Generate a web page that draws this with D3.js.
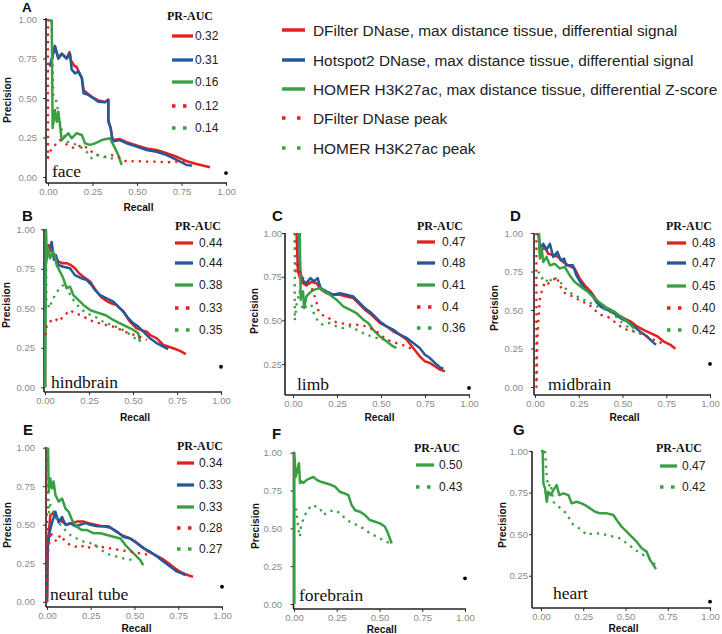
<!DOCTYPE html>
<html><head><meta charset="utf-8">
<script src="https://cdn.jsdelivr.net/npm/d3@7"></script>
<style>body{margin:0;background:#fff}svg{display:block}</style>
</head><body>
<svg id="chart" width="722" height="634"></svg>
<script>
// ---------------- DATA ----------------
const seriesNames = [
  "DFilter DNase, max distance tissue, differential signal",
  "Hotspot2 DNase, max distance tissue, differential signal",
  "HOMER H3K27ac, max distance tissue, differential Z-score",
  "DFilter DNase peak",
  "HOMER H3K27ac peak"
];
const xTicks = [0, 0.25, 0.5, 0.75, 1];
const yTicksFull = [0, 0.25, 0.5, 0.75, 1];
const yTicksShort = [0.25, 0.5, 0.75, 1];
const tissues = ["face", "hindbrain", "limb", "midbrain", "neural tube", "forebrain", "heart"];

// face (A)
const faceDFilterDiff = [[0.011,0.70],[0.039,0.825],[0.058,0.75],[0.077,0.78],[0.105,0.75],[0.12,0.79],[0.128,0.74],[0.15,0.70],[0.16,0.70],[0.175,0.66],[0.19,0.63],[0.2,0.55],[0.226,0.525],[0.255,0.50],[0.283,0.485],[0.32,0.475],[0.339,0.49],[0.339,0.36],[0.352,0.31],[0.363,0.235],[0.404,0.24],[0.442,0.22],[0.498,0.20],[0.554,0.18],[0.61,0.171],[0.667,0.15],[0.723,0.128],[0.779,0.10],[0.835,0.082],[0.91,0.062]];
const faceHotspotDiff = [[0.011,0.70],[0.039,0.83],[0.058,0.75],[0.077,0.78],[0.105,0.75],[0.124,0.78],[0.133,0.68],[0.152,0.656],[0.171,0.667],[0.19,0.625],[0.2,0.53],[0.226,0.52],[0.255,0.498],[0.283,0.477],[0.32,0.473],[0.339,0.487],[0.339,0.35],[0.352,0.308],[0.363,0.224],[0.404,0.234],[0.442,0.213],[0.498,0.192],[0.554,0.171],[0.61,0.16],[0.667,0.139],[0.723,0.108],[0.779,0.076],[0.81,0.072]];
const faceHomerDiff = [[0.002,0.99],[0.021,0.99],[0.026,0.31],[0.039,0.424],[0.049,0.35],[0.058,0.413],[0.067,0.33],[0.077,0.234],[0.096,0.255],[0.114,0.277],[0.133,0.245],[0.161,0.277],[0.19,0.266],[0.208,0.213],[0.236,0.203],[0.264,0.213],[0.302,0.234],[0.348,0.245],[0.367,0.203],[0.395,0.139],[0.414,0.076]];
const faceDFilterPeak = [[0,1.0],[0,0.12],[0.002,0.139],[0.021,0.18],[0.049,0.213],[0.067,0.234],[0.096,0.213],[0.124,0.192],[0.152,0.181],[0.19,0.203],[0.226,0.181],[0.255,0.15],[0.283,0.139],[0.32,0.128],[0.358,0.139],[0.404,0.122],[0.442,0.097],[0.498,0.101],[0.554,0.097],[0.61,0.097],[0.667,0.093],[0.723,0.097],[0.779,0.097]];
const faceHomerPeak = [[0.02,0.99],[0.03,0.5],[0.049,0.477],[0.058,0.40],[0.077,0.297],[0.105,0.224],[0.142,0.213],[0.18,0.192],[0.217,0.16],[0.245,0.118],[0.273,0.139],[0.311,0.128],[0.348,0.118],[0.367,0.118]];
const faceAUC = ["0.32","0.31","0.16","0.12","0.14"];
const faceBaseline = 0.025;

// hindbrain (B)
const hbDFilterDiff = [[0,0],[0,0.75],[0.02,0.9],[0.028,0.87],[0.047,0.85],[0.076,0.795],[0.1,0.785],[0.123,0.785],[0.145,0.775],[0.17,0.753],[0.195,0.72],[0.218,0.70],[0.256,0.67],[0.294,0.605],[0.32,0.57],[0.35,0.546],[0.38,0.53],[0.407,0.52],[0.445,0.48],[0.483,0.415],[0.52,0.373],[0.55,0.36],[0.578,0.352],[0.597,0.331],[0.635,0.31],[0.672,0.268],[0.729,0.247],[0.767,0.23],[0.80,0.21]];
const hbHotspotDiff = [[0,0],[0,0.78],[0.02,0.87],[0.028,0.88],[0.038,0.92],[0.051,0.806],[0.062,0.837],[0.076,0.774],[0.104,0.763],[0.142,0.753],[0.17,0.71],[0.208,0.69],[0.237,0.679],[0.265,0.647],[0.284,0.616],[0.313,0.584],[0.35,0.563],[0.388,0.542],[0.416,0.51],[0.445,0.479],[0.473,0.437],[0.502,0.405],[0.53,0.384],[0.559,0.352],[0.597,0.31],[0.635,0.279],[0.672,0.257],[0.70,0.242]];
const hbHomerDiff = [[0,0],[0.006,0.995],[0.01,0.816],[0.019,0.88],[0.028,0.816],[0.044,0.858],[0.057,0.826],[0.066,0.774],[0.085,0.732],[0.104,0.69],[0.123,0.627],[0.142,0.637],[0.161,0.584],[0.189,0.553],[0.218,0.521],[0.256,0.489],[0.294,0.474],[0.341,0.458],[0.388,0.426],[0.426,0.405],[0.464,0.384],[0.502,0.363],[0.53,0.342],[0.54,0.289]];
const hbDFilterPeak = [[0.003,0.33],[0.01,0.394],[0.028,0.415],[0.057,0.437],[0.076,0.415],[0.104,0.447],[0.142,0.489],[0.17,0.468],[0.199,0.458],[0.237,0.437],[0.275,0.415],[0.313,0.405],[0.35,0.394],[0.388,0.384],[0.435,0.363],[0.473,0.342],[0.511,0.331],[0.54,0.32],[0.578,0.30]];
const hbHomerPeak = [[0.005,0.98],[0.008,0.55],[0.013,0.542],[0.024,0.5],[0.038,0.542],[0.057,0.584],[0.076,0.616],[0.095,0.637],[0.114,0.658],[0.133,0.605],[0.161,0.553],[0.199,0.5],[0.237,0.468],[0.284,0.447],[0.331,0.415],[0.379,0.394],[0.426,0.373],[0.473,0.342],[0.511,0.31],[0.54,0.29]];
const hbAUC = ["0.44","0.44","0.38","0.33","0.35"];
const hbBaseline = 0.13;

// limb (C)
const limbDFilterDiff = [[0.02,1.0],[0.028,0.78],[0.047,0.72],[0.076,0.70],[0.104,0.72],[0.133,0.714],[0.16,0.676],[0.19,0.656],[0.228,0.647],[0.266,0.647],[0.304,0.637],[0.342,0.628],[0.37,0.60],[0.408,0.561],[0.446,0.532],[0.493,0.485],[0.531,0.466],[0.569,0.437],[0.607,0.418],[0.645,0.39],[0.683,0.342],[0.72,0.294],[0.75,0.265],[0.778,0.256],[0.806,0.237],[0.835,0.218],[0.863,0.208]];
const limbHotspotDiff = [[0.036,1.0],[0.04,0.78],[0.053,0.733],[0.072,0.71],[0.1,0.742],[0.119,0.723],[0.14,0.742],[0.157,0.685],[0.19,0.666],[0.228,0.647],[0.266,0.656],[0.304,0.647],[0.342,0.637],[0.37,0.609],[0.408,0.57],[0.446,0.542],[0.493,0.494],[0.531,0.466],[0.569,0.447],[0.607,0.418],[0.645,0.40],[0.683,0.37],[0.72,0.342],[0.75,0.303],[0.778,0.284],[0.806,0.256],[0.835,0.231],[0.854,0.223]];
const limbHomerDiff = [[0.038,1.0],[0.044,0.628],[0.057,0.666],[0.063,0.57],[0.076,0.637],[0.104,0.666],[0.123,0.676],[0.152,0.685],[0.18,0.666],[0.209,0.647],[0.247,0.618],[0.285,0.58],[0.323,0.561],[0.36,0.542],[0.40,0.504],[0.427,0.485],[0.455,0.447],[0.493,0.408],[0.531,0.38],[0.569,0.351],[0.588,0.342]];
const limbDFilterPeak = [[0.01,1.0],[0.015,0.78],[0.028,0.838],[0.047,0.752],[0.076,0.723],[0.104,0.695],[0.123,0.637],[0.133,0.609],[0.142,0.561],[0.16,0.532],[0.19,0.523],[0.228,0.494],[0.266,0.485],[0.323,0.475],[0.36,0.475],[0.417,0.466],[0.474,0.437],[0.531,0.39],[0.588,0.37],[0.645,0.351],[0.683,0.332]];
const limbHomerPeak = [[0.01,1.0],[0.01,0.5],[0.02,0.59],[0.038,0.666],[0.047,0.59],[0.057,0.56],[0.076,0.58],[0.104,0.59],[0.114,0.55],[0.142,0.494],[0.17,0.475],[0.209,0.485],[0.247,0.466],[0.285,0.456],[0.323,0.466],[0.36,0.447],[0.417,0.418],[0.474,0.40],[0.512,0.39]];
const limbAUC = ["0.47","0.48","0.41","0.4","0.36"];
const limbBaseline = 0.113;

// midbrain (D)
const mbDFilterDiff = [[0.022,1.0],[0.028,0.877],[0.057,0.91],[0.075,0.866],[0.104,0.856],[0.132,0.845],[0.16,0.812],[0.19,0.79],[0.226,0.77],[0.255,0.705],[0.283,0.662],[0.32,0.618],[0.358,0.554],[0.396,0.52],[0.434,0.50],[0.472,0.468],[0.51,0.446],[0.547,0.425],[0.585,0.392],[0.623,0.37],[0.66,0.35],[0.70,0.328],[0.736,0.295],[0.774,0.274],[0.802,0.248]];
const mbHotspotDiff = [[0.019,1.0],[0.028,0.90],[0.047,0.93],[0.066,0.89],[0.085,0.93],[0.104,0.845],[0.128,0.877],[0.147,0.823],[0.166,0.834],[0.179,0.79],[0.217,0.79],[0.236,0.726],[0.264,0.672],[0.292,0.63],[0.32,0.608],[0.349,0.554],[0.377,0.52],[0.415,0.50],[0.453,0.478],[0.49,0.446],[0.528,0.425],[0.566,0.392],[0.60,0.36],[0.64,0.328],[0.68,0.285],[0.692,0.274]];
const mbHomerDiff = [[0.022,1.0],[0.028,0.834],[0.038,0.90],[0.047,0.812],[0.066,0.845],[0.085,0.79],[0.113,0.80],[0.142,0.77],[0.17,0.78],[0.198,0.726],[0.226,0.683],[0.264,0.65],[0.302,0.618],[0.34,0.575],[0.377,0.543],[0.415,0.51],[0.453,0.49],[0.49,0.457],[0.528,0.425],[0.566,0.381]];
const mbDFilterPeak = [[0.008,1.0],[0.008,0.0],[0.013,0.3],[0.019,0.425],[0.028,0.575],[0.038,0.618],[0.057,0.683],[0.075,0.672],[0.104,0.694],[0.123,0.716],[0.142,0.662],[0.16,0.618],[0.19,0.597],[0.226,0.586],[0.264,0.554],[0.302,0.543],[0.34,0.50],[0.377,0.468],[0.415,0.457],[0.453,0.425],[0.49,0.392],[0.528,0.37],[0.566,0.36],[0.62,0.338],[0.68,0.306],[0.726,0.285]];
const mbHomerPeak = [[0.019,0.75],[0.038,0.705],[0.057,0.716],[0.075,0.672],[0.104,0.716],[0.132,0.694],[0.16,0.662],[0.19,0.618],[0.226,0.597],[0.264,0.575],[0.302,0.554],[0.34,0.532],[0.377,0.51],[0.415,0.50],[0.453,0.468],[0.49,0.425],[0.528,0.392],[0.566,0.36],[0.604,0.35]];
const mbAUC = ["0.48","0.47","0.45","0.40","0.42"];
const mbBaseline = 0.15;

// neural tube (E)
const ntDFilterDiff = [[0,0],[0.004,0.37],[0.019,0.56],[0.038,0.58],[0.057,0.54],[0.086,0.52],[0.114,0.50],[0.143,0.51],[0.171,0.52],[0.21,0.52],[0.238,0.51],[0.276,0.50],[0.314,0.49],[0.352,0.49],[0.39,0.46],[0.43,0.43],[0.467,0.415],[0.505,0.39],[0.543,0.357],[0.58,0.325],[0.62,0.303],[0.657,0.28],[0.695,0.25],[0.733,0.216],[0.771,0.188],[0.81,0.17],[0.834,0.162]];
const ntHotspotDiff = [[0,0],[0.004,0.346],[0.015,0.45],[0.029,0.515],[0.048,0.584],[0.067,0.515],[0.086,0.55],[0.105,0.50],[0.133,0.51],[0.162,0.49],[0.19,0.50],[0.22,0.51],[0.248,0.50],[0.286,0.49],[0.324,0.49],[0.362,0.48],[0.40,0.455],[0.438,0.42],[0.476,0.41],[0.514,0.38],[0.552,0.346],[0.59,0.325],[0.63,0.292],[0.667,0.26],[0.705,0.227],[0.743,0.195],[0.77,0.184],[0.79,0.173]];
const ntHomerDiff = [[0.006,1.0],[0.01,0.714],[0.019,0.80],[0.029,0.736],[0.038,0.78],[0.048,0.693],[0.067,0.65],[0.086,0.67],[0.105,0.606],[0.124,0.584],[0.143,0.53],[0.171,0.487],[0.20,0.465],[0.229,0.465],[0.267,0.444],[0.305,0.444],[0.343,0.433],[0.38,0.422],[0.42,0.41],[0.448,0.368],[0.476,0.335],[0.505,0.303],[0.533,0.27],[0.55,0.238]];
const ntDFilterPeak = [[0,1.0],[0,0.0],[0.005,0.3],[0.019,0.455],[0.038,0.41],[0.057,0.39],[0.076,0.433],[0.105,0.39],[0.133,0.368],[0.162,0.357],[0.19,0.368],[0.229,0.346],[0.267,0.368],[0.305,0.357],[0.362,0.346],[0.42,0.335],[0.476,0.325],[0.533,0.314],[0.59,0.303]];
const ntHomerPeak = [[0.003,1.0],[0.01,0.574],[0.019,0.628],[0.038,0.584],[0.057,0.53],[0.076,0.50],[0.105,0.465],[0.133,0.433],[0.171,0.41],[0.21,0.39],[0.248,0.38],[0.286,0.357],[0.324,0.325],[0.362,0.303],[0.40,0.292],[0.438,0.281],[0.495,0.27]];
const ntAUC = ["0.34","0.33","0.33","0.28","0.27"];
const ntBaseline = 0.097;

// forebrain (F)
const fbHomerDiff = [[0.002,0],[0.002,1.0],[0.01,0.84],[0.02,0.885],[0.029,0.93],[0.035,0.80],[0.045,0.81],[0.055,0.80],[0.074,0.82],[0.094,0.83],[0.113,0.84],[0.133,0.82],[0.152,0.81],[0.181,0.80],[0.21,0.79],[0.24,0.775],[0.27,0.74],[0.298,0.73],[0.318,0.72],[0.337,0.654],[0.357,0.62],[0.386,0.61],[0.415,0.588],[0.444,0.555],[0.474,0.544],[0.503,0.533],[0.532,0.511],[0.55,0.467],[0.571,0.40]];
const fbHomerPeak = [[0.012,0.632],[0.02,0.544],[0.029,0.478],[0.035,0.445],[0.039,0.50],[0.055,0.566],[0.074,0.61],[0.103,0.654],[0.133,0.643],[0.152,0.632],[0.172,0.588],[0.20,0.61],[0.24,0.62],[0.27,0.60],[0.298,0.566],[0.327,0.544],[0.366,0.522],[0.405,0.50],[0.444,0.467],[0.484,0.445],[0.522,0.423],[0.561,0.40]];
const fbAUC = ["0.50","0.43"];
const fbBaseline = 0.17;

// heart (G)
const heartHomerDiff = [[0,1.0],[0.01,1.0],[0.014,0.805],[0.024,0.775],[0.034,0.695],[0.043,0.755],[0.057,0.735],[0.073,0.765],[0.093,0.795],[0.108,0.735],[0.132,0.745],[0.162,0.735],[0.181,0.685],[0.211,0.695],[0.24,0.685],[0.26,0.675],[0.29,0.655],[0.32,0.635],[0.35,0.625],[0.39,0.625],[0.428,0.615],[0.448,0.585],[0.477,0.545],[0.507,0.515],[0.536,0.485],[0.566,0.455],[0.596,0.415],[0.625,0.395],[0.645,0.345],[0.665,0.315],[0.68,0.29]];
const heartHomerPeak = [[0.024,1.0],[0.03,0.916],[0.034,0.846],[0.043,0.785],[0.057,0.805],[0.073,0.695],[0.103,0.665],[0.132,0.645],[0.162,0.605],[0.181,0.565],[0.211,0.545],[0.24,0.525],[0.27,0.495],[0.31,0.505],[0.35,0.505],[0.39,0.495],[0.428,0.485],[0.467,0.475],[0.507,0.445],[0.546,0.415],[0.586,0.385],[0.625,0.365],[0.655,0.345],[0.675,0.315]];
const heartAUC = ["0.47","0.42"];
const heartBaseline = 0.094;

// ---------------- STYLE / LAYOUT ----------------
const RED = "#e3201c", BLUE = "#22599b", GREEN = "#38a043";
const kindStyle = [
  {color: RED, dotted: false},
  {color: BLUE, dotted: false},
  {color: GREEN, dotted: false},
  {color: RED, dotted: true},
  {color: GREEN, dotted: true}
];
const SANS = "'Liberation Sans', Arial, Helvetica, sans-serif";
const SERIF = "'Liberation Serif', 'Times New Roman', serif";

const panels = [
  {id:"A", tissue:tissues[0], lines:[faceDFilterDiff,faceHotspotDiff,faceHomerDiff,faceDFilterPeak,faceHomerPeak], kinds:[0,1,2,3,4], auc:faceAUC, base:faceBaseline, yTicks:yTicksFull,
   x0:48, x1:226, y0:177, y1:19, axX:46, axY:183, top:18, right:227, labelEnd:37, precX:7, precY:100, recallY:211, letter:[22,12.2], lsize:13.5, tis:[52,177], pr:[167,20], leg:[172,193,195], legY:[36,60,82,106,128]},
  {id:"B", tissue:tissues[1], lines:[hbDFilterDiff,hbHotspotDiff,hbHomerDiff,hbDFilterPeak,hbHomerPeak], kinds:[0,1,2,3,4], auc:hbAUC, base:hbBaseline, yTicks:yTicksFull,
   x0:45, x1:221, y0:387.3, y1:229.3, axX:44, axY:392, top:229, right:222, labelEnd:35, precX:6, precY:305, recallY:421, letter:[22,221], lsize:15, tis:[51,388], pr:[175,230], leg:[175,193,199], legY:[243,263,285,308,330]},
  {id:"C", tissue:tissues[2], lines:[limbDFilterDiff,limbHotspotDiff,limbHomerDiff,limbDFilterPeak,limbHomerPeak], kinds:[0,1,2,3,4], auc:limbAUC, base:limbBaseline, yTicks:yTicksShort,
   x0:293, x1:469, y0:407.7, y1:233, axX:285, axY:395, top:233, right:470, labelEnd:282, precX:254, precY:311, recallY:421, letter:[272,221], lsize:15, tis:[297,390], pr:[417,230], leg:[417,435,442], legY:[242,263,285,307,328]},
  {id:"D", tissue:tissues[3], lines:[mbDFilterDiff,mbHotspotDiff,mbHomerDiff,mbDFilterPeak,mbHomerPeak], kinds:[0,1,2,3,4], auc:mbAUC, base:mbBaseline, yTicks:yTicksFull,
   x0:535, x1:710, y0:387, y1:233, axX:534, axY:395, top:233, right:711, labelEnd:523, precX:494, precY:308, recallY:421, letter:[510,221], lsize:15, tis:[548,390], pr:[666,230], leg:[667,686,692], legY:[243,263,286,308,330]},
  {id:"E", tissue:tissues[4], lines:[ntDFilterDiff,ntHotspotDiff,ntHomerDiff,ntDFilterPeak,ntHomerPeak], kinds:[0,1,2,3,4], auc:ntAUC, base:ntBaseline, yTicks:yTicksFull,
   x0:47, x1:222, y0:601.7, y1:447.7, axX:46, axY:607, top:447, right:223, labelEnd:35, precX:7, precY:525, recallY:632, letter:[23,435], lsize:15, tis:[50,600], pr:[177,450], leg:[177,194,199], legY:[463,485,507,528,549]},
  {id:"F", tissue:tissues[5], lines:[fbHomerDiff,fbHomerPeak], kinds:[2,4], auc:fbAUC, base:fbBaseline, yTicks:yTicksFull,
   x0:294, x1:465, y0:604, y1:452.7, axX:293.5, axY:609, top:452, right:466, labelEnd:282, precX:255, precY:526, recallY:633, letter:[272,439], lsize:15, tis:[299,601], pr:[414,452], leg:[416,434,439], legY:[465,487]},
  {id:"G", tissue:tissues[6], lines:[heartHomerDiff,heartHomerPeak], kinds:[2,4], auc:heartAUC, base:heartBaseline, yTicks:yTicksShort,
   x0:541, x1:710, y0:617.3, y1:451, axX:532, axY:608, top:451, right:711, labelEnd:528, precX:502, precY:525, recallY:632, letter:[513,435], lsize:15, tis:[553,599], pr:[656,452], leg:[660,677,682], legY:[466,487]}
];

// ---------------- DRAW ----------------
const svg = d3.select("#chart");
svg.append("rect").attr("width",722).attr("height",634).attr("fill","#fff");

// top legend
const topLeg = svg.append("g");
const topY = [30, 60, 89, 118, 148];
seriesNames.forEach((name, i) => {
  const st = kindStyle[i];
  topLeg.append("line").attr("x1",282).attr("x2",305).attr("y1",topY[i]).attr("y2",topY[i])
    .attr("stroke",st.color).attr("stroke-width",3.5)
    .attr("stroke-dasharray", st.dotted ? "3.5,11.5" : null);
  topLeg.append("text").attr("x",313).attr("y",topY[i]).attr("dy","0.36em")
    .attr("font-family",SANS).attr("font-size","15.4px").attr("fill","#222").text(name);
});

panels.forEach(p => {
  const g = svg.append("g");
  const x = d3.scaleLinear().domain([0,1]).range([p.x0, p.x1]);
  const y = d3.scaleLinear().domain([0,1]).range([p.y0, p.y1]);

  // axes
  const gx = g.append("g").attr("transform",`translate(0,${p.axY})`)
    .call(d3.axisBottom(x).tickValues(xTicks).tickFormat(d3.format(".2f")).tickSize(3).tickPadding(2));
  const gy = g.append("g").attr("transform",`translate(${p.axX},0)`)
    .call(d3.axisLeft(y).tickValues(p.yTicks).tickFormat(d3.format(".2f")).tickSize(3).tickPadding(Math.max(0, p.axX - 3 - p.labelEnd)));
  [gx, gy].forEach(a => {
    a.select(".domain").remove();
    a.selectAll(".tick line").attr("stroke","#333").attr("stroke-width",1);
    a.selectAll(".tick text").attr("fill","#8a8a8a").attr("font-family",SANS).attr("font-size","9.5px");
  });
  g.append("line").attr("x1",p.axX).attr("x2",p.axX).attr("y1",p.top).attr("y2",p.axY)
    .attr("stroke","#222").attr("stroke-width",1.6);
  g.append("line").attr("x1",p.axX).attr("x2",p.right).attr("y1",p.axY).attr("y2",p.axY)
    .attr("stroke","#222").attr("stroke-width",1.6);

  // axis titles
  g.append("text").attr("transform",`translate(${p.precX},${p.precY}) rotate(-90)`).attr("text-anchor","middle")
    .attr("dy","0.35em").attr("font-family",SANS).attr("font-weight","bold").attr("font-size","10.2px").attr("fill","#111").text("Precision");
  g.append("text").attr("x",(p.axX + p.right)/2 + 2).attr("y",p.recallY).attr("text-anchor","middle")
    .attr("font-family",SANS).attr("font-weight","bold").attr("font-size","10.2px").attr("fill","#111").text("Recall");

  // panel letter
  g.append("text").attr("x",p.letter[0]).attr("y",p.letter[1]).attr("font-family",SANS).attr("font-weight","bold")
    .attr("font-size",p.lsize + "px").attr("fill","#111").text(p.id);

  // curves: solids first then dotted
  const line = d3.line().x(d => x(d[0])).y(d => y(d[1]));
  const order = p.kinds.map((k,i) => i).sort((a,b) => (kindStyle[p.kinds[a]].dotted - kindStyle[p.kinds[b]].dotted) || (a-b));
  order.forEach(i => {
    const st = kindStyle[p.kinds[i]];
    g.append("path").datum(p.lines[i]).attr("d", line).attr("fill","none")
      .attr("stroke", st.color)
      .attr("stroke-width", st.dotted ? 2.3 : 2.5)
      .attr("stroke-linejoin","round")
      .attr("stroke-dasharray", st.dotted ? "2.3,5" : null);
  });

  // baseline point at recall 1
  g.append("circle").attr("cx",x(1)).attr("cy",y(p.base)).attr("r",1.9).attr("fill","#000");

  // tissue label
  g.append("text").attr("x",p.tis[0]).attr("y",p.tis[1]).attr("font-family",SERIF).attr("font-size","17.5px")
    .attr("fill","#111").text(p.tissue);

  // legend
  g.append("text").attr("x",p.pr[0]).attr("y",p.pr[1]).attr("font-family",SERIF).attr("font-weight","bold")
    .attr("font-size","12px").attr("fill","#111").text("PR-AUC");
  p.kinds.forEach((k,i) => {
    const st = kindStyle[k];
    g.append("line").attr("x1",p.leg[0]).attr("x2",p.leg[1]).attr("y1",p.legY[i]).attr("y2",p.legY[i])
      .attr("stroke",st.color).attr("stroke-width",3.3)
      .attr("stroke-dasharray", st.dotted ? "3.5,7.5" : null);
    g.append("text").attr("x",p.leg[2]).attr("y",p.legY[i]).attr("dy","0.36em").attr("font-family",SANS)
      .attr("font-size","12px").attr("fill","#222").text(p.auc[i]);
  });
});
</script>
</body></html>
